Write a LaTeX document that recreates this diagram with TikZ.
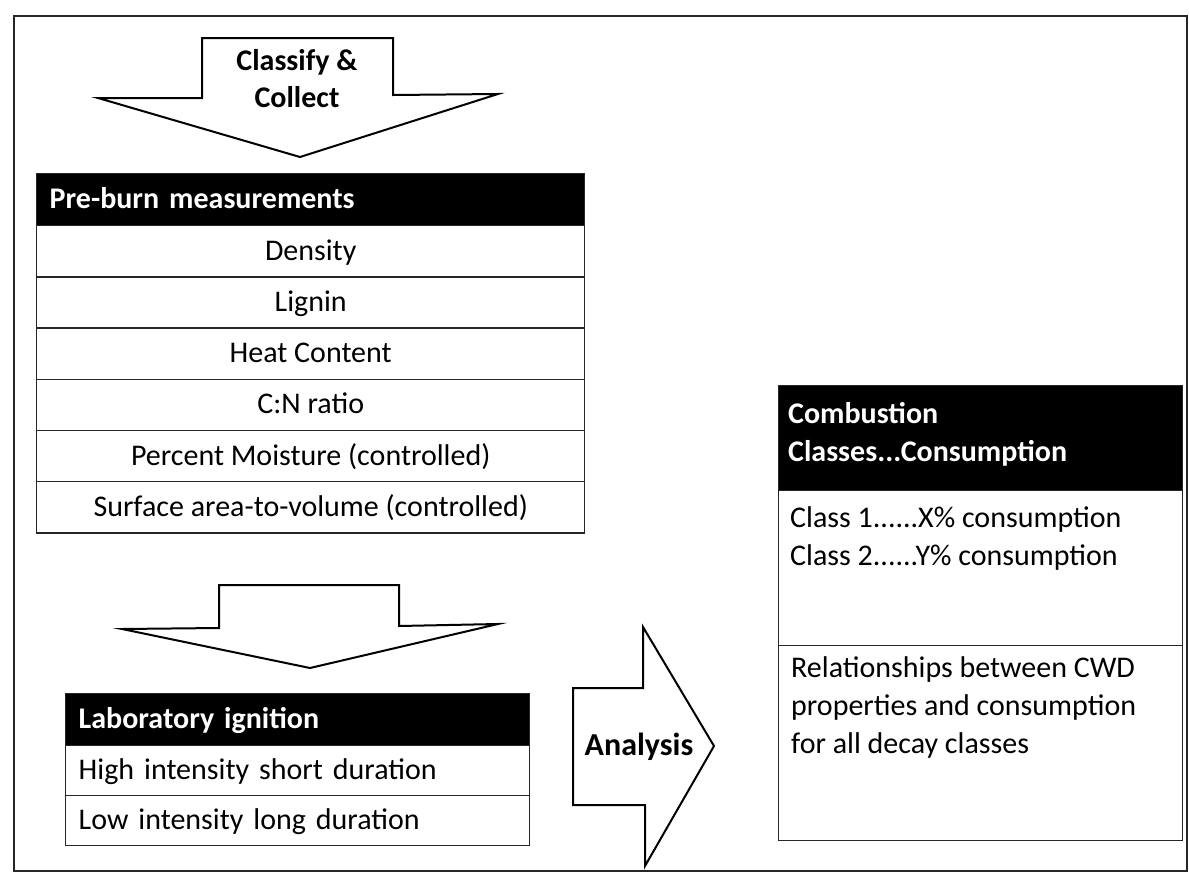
\documentclass[tikz,border=0pt]{standalone}
\usepackage{fontspec}
\setmainfont{Carlito}
\begin{document}
\begin{tikzpicture}[x=1pt,y=-1pt,
  cell/.style={draw=black!85, line width=1.4pt, inner sep=0pt, anchor=north west,
    text height=24pt, text depth=6pt, font=\fontsize{30}{37}\selectfont},
  hdrcell/.style={cell, fill=black, text=white, font=\bfseries\fontsize{30}{37}\selectfont,
    inner xsep=13pt, align=left},
  blockarrow/.style={draw=black, line width=2pt, fill=white, line join=miter},
  linetxt/.style={inner sep=0pt, anchor=base west, font=\fontsize{30}{37}\selectfont},
  arrowtxt/.style={inner sep=0pt, anchor=base, font=\bfseries\fontsize{30}{37}\selectfont},
]
\useasboundingbox (0,0) rectangle (1189,876);
\fill[white] (0,0) rectangle (1189,876);
% outer frame
\draw[line width=2.5pt, black!85] (14,16) rectangle (1187,871);

% top block arrow
\draw[blockarrow] (202,38) -- (393,38) -- (393,95) -- (498,94) -- (300,157) -- (98,98) -- (202,98) -- cycle;
\node[arrowtxt] (cl1) at (297,70) {Classify \&};
\node[arrowtxt] (cl2) at (297,107) {Collect};

% pre-burn table
\node[hdrcell, minimum width=548pt, minimum height=52pt, text width=522pt] (pbh) at (36,173) {Pre-burn measurements};
\node[cell, minimum width=548pt, minimum height=51.2pt] (pb1) at (36,225) {Density};
\node[cell, minimum width=548pt, minimum height=51.2pt] (pb2) at (36,276.2) {Lignin};
\node[cell, minimum width=548pt, minimum height=51.2pt] (pb3) at (36,327.4) {Heat Content};
\node[cell, minimum width=548pt, minimum height=51.2pt] (pb4) at (36,378.6) {C:N ratio};
\node[cell, minimum width=548pt, minimum height=51.2pt] (pb5) at (36,429.8) {Percent Moisture (controlled)};
\node[cell, minimum width=548pt, minimum height=51.2pt] (pb6) at (36,481) {Surface area-to-volume (controlled)};

% second block arrow
\draw[blockarrow] (219,585) -- (399,585) -- (399,626) -- (498,624) -- (310,668) -- (122,629) -- (219,628) -- cycle;

% laboratory table
\node[hdrcell, minimum width=464pt, minimum height=52pt, text width=438pt] (lbh) at (65,693) {Laboratory ignition};
\node[cell, minimum width=464pt, minimum height=50pt, inner xsep=13pt, text width=438pt, align=left] (lb1) at (65,745) {High intensity short duration};
\node[cell, minimum width=464pt, minimum height=50pt, inner xsep=13pt, text width=438pt, align=left] (lb2) at (65,795) {Low intensity long duration};

% analysis arrow
\draw[blockarrow] (573,688) -- (643,688) -- (643,627) -- (714,746) -- (645,866) -- (645,805) -- (573,805) -- cycle;
\node[arrowtxt, font=\bfseries\fontsize{32}{38}\selectfont] (an) at (639,755) {Analysis};

% combustion table
\node[cell, fill=black, minimum width=404pt, minimum height=105pt] (cbh) at (778,385) {};
\node[cell, minimum width=404pt, minimum height=155pt] (cb1) at (778,490) {};
\node[cell, minimum width=404pt, minimum height=195pt] (cb2) at (778,645) {};
\node[linetxt, text=white, font=\bfseries\fontsize{30}{37}\selectfont] (h1) at (788,423) {Combustion};
\node[linetxt, text=white, font=\bfseries\fontsize{30}{37}\selectfont] (h2) at (788,461) {Classes...Consumption};
\node[linetxt] (c1) at (790,527) {Class 1......X\% consumption};
\node[linetxt] (c2) at (790,565) {Class 2......Y\% consumption};
\node[linetxt] (r1) at (791,677) {Relationships between CWD};
\node[linetxt] (r2) at (791,715) {properties and consumption};
\node[linetxt] (r3) at (791,753) {for all decay classes};
\end{tikzpicture}
\end{document}
